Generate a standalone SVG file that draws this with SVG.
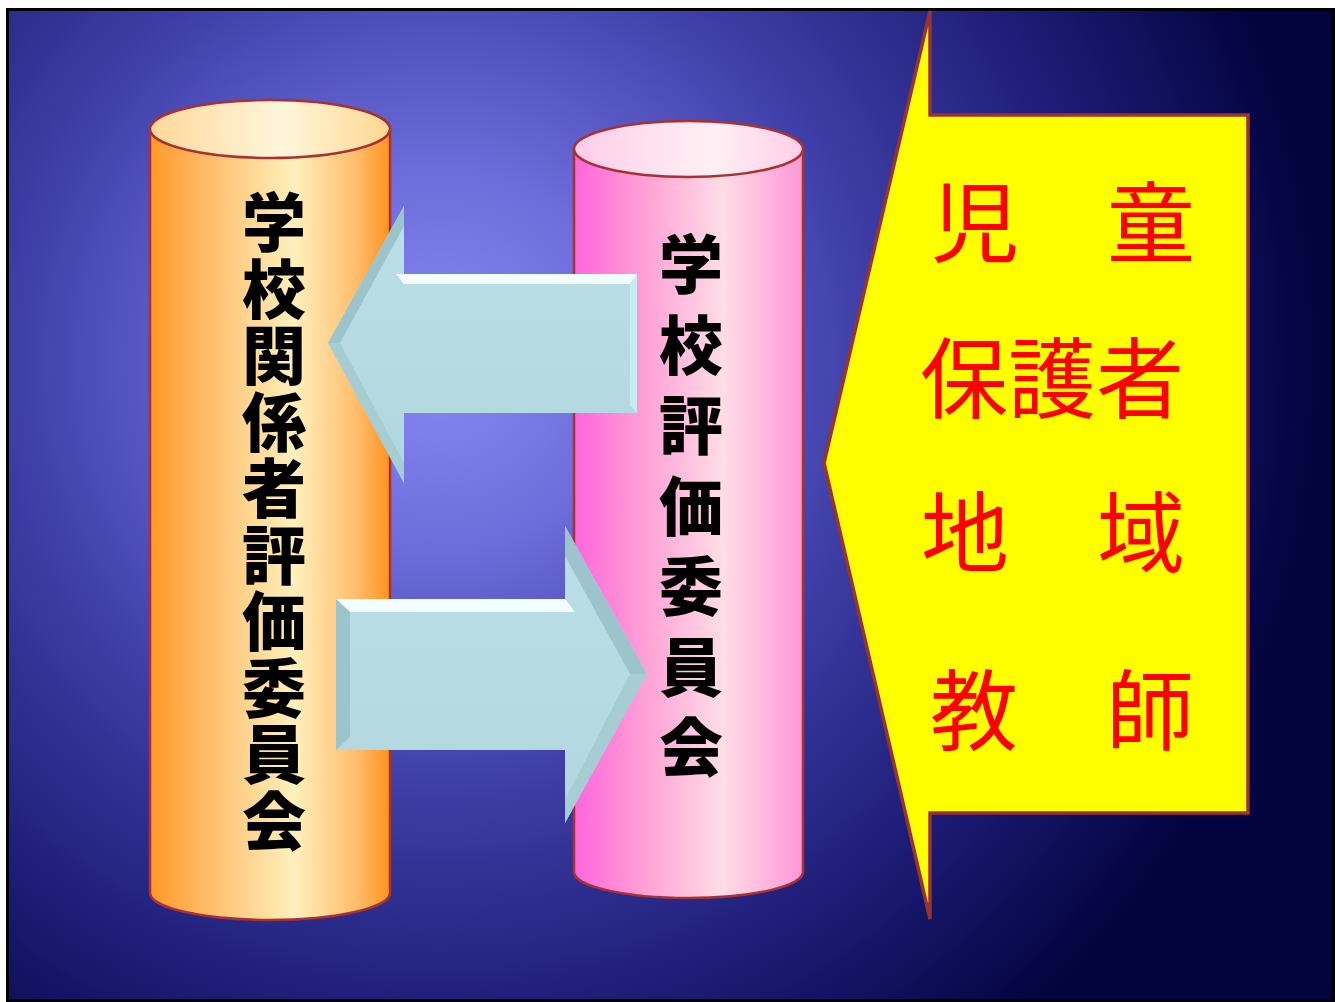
<svg xmlns="http://www.w3.org/2000/svg" width="1335" height="1002" viewBox="0 0 1335 1002">
  <defs>
    <radialGradient id="bg" gradientUnits="userSpaceOnUse" cx="440" cy="360" r="880">
      <stop offset="0" stop-color="#8a8af4"/>
      <stop offset="0.22" stop-color="#6c6cda"/>
      <stop offset="0.5" stop-color="#3c3ca4"/>
      <stop offset="0.78" stop-color="#1a1a72"/>
      <stop offset="1" stop-color="#03033f"/>
    </radialGradient>
    <linearGradient id="orangeBody" x1="0" y1="0" x2="1" y2="0">
      <stop offset="0" stop-color="#ff9828"/>
      <stop offset="0.3" stop-color="#ffc678"/>
      <stop offset="0.6" stop-color="#fff0bc"/>
      <stop offset="0.85" stop-color="#ffc070"/>
      <stop offset="1" stop-color="#ff9220"/>
    </linearGradient>
    <linearGradient id="orangeTop" x1="0" y1="0" x2="1" y2="0">
      <stop offset="0" stop-color="#ffd89a"/>
      <stop offset="0.55" stop-color="#fff6dc"/>
      <stop offset="1" stop-color="#ffd890"/>
    </linearGradient>
    <linearGradient id="pinkBody" x1="0" y1="0" x2="1" y2="0">
      <stop offset="0" stop-color="#ff66dc"/>
      <stop offset="0.3" stop-color="#ff9fd6"/>
      <stop offset="0.65" stop-color="#ffdde6"/>
      <stop offset="1" stop-color="#ff96d8"/>
    </linearGradient>
    <linearGradient id="pinkTop" x1="0" y1="0" x2="1" y2="0">
      <stop offset="0" stop-color="#ffcdea"/>
      <stop offset="0.6" stop-color="#fff0f4"/>
      <stop offset="1" stop-color="#ffcfe8"/>
    </linearGradient>
    <linearGradient id="arrowFill" x1="0" y1="0" x2="0" y2="1">
      <stop offset="0" stop-color="#bde0e8"/>
      <stop offset="1" stop-color="#b0d6de"/>
    </linearGradient>
  </defs>
  <style>
    .cyl { stroke: #a83232; stroke-width: 2.5; }
    .arrow { fill: url(#arrowFill); }
    .hl { fill: #f2fdff; }
    .dk { fill: #9cc4cc; }
    .vt { font-family: "Noto Sans CJK JP", "Noto Sans CJK SC", sans-serif; font-weight: 900; font-size: 64px; fill: #000; writing-mode: vertical-rl; text-orientation: upright; }
    .rt { font-family: "Noto Sans CJK JP", "Noto Sans CJK SC", sans-serif; font-weight: 400; font-size: 88px; fill: #ff0000; }
  </style>

  <rect x="6" y="8" width="1329" height="994" fill="#000"/>
  <rect x="9" y="11" width="1322" height="988" fill="url(#bg)"/>

  <g id="node-kankeisha">
    <path class="cyl" d="M150,129 L150,893 A120,27 0 0 0 390,893 L390,129 Z" fill="url(#orangeBody)"/>
    <ellipse class="cyl" cx="270" cy="129" rx="120" ry="29" fill="url(#orangeTop)"/>
    <text class="vt" x="274" y="190" letter-spacing="2.5">学校関係者評価委員会</text>
  </g>

  <g id="node-gakkou">
    <path class="cyl" d="M574,149 L574,872 A114.5,26 0 0 0 803,872 L803,149 Z" fill="url(#pinkBody)"/>
    <ellipse class="cyl" cx="688.5" cy="149" rx="114.5" ry="28" fill="url(#pinkTop)"/>
    <text class="vt" x="691" y="232" letter-spacing="16.5">学校評価委員会</text>
  </g>

  <g id="connectors">
    <g id="arrow-left">
      <polygon class="arrow" points="637,274 404,274 404,206 328,343 404,483 404,413 637,413"/>
      <polygon class="hl" points="637,274 396,274 404,284 630,284"/>
      <polygon class="dk" points="404,206 328,343 340,343 404,226"/>
      <polygon fill="#a6ccd4" points="328,343 404,483 404,463 340,343"/>
      <polygon fill="#c8ecf2" points="637,274 637,413 630,405 630,284"/>
    </g>
    <g id="arrow-right">
      <polygon class="arrow" points="336,599 565,599 565,526 647,674 565,823 565,750 336,750"/>
      <polygon class="hl" points="336,599 565,599 575,612 350,612"/>
      <polygon class="dk" points="336,599 350,612 350,737 336,750"/>
      <polygon class="dk" points="565,526 647,674 630,674 565,556"/>
      <polygon fill="#a6ccd4" points="647,674 565,823 565,800 630,674"/>
    </g>
  </g>

  <g id="node-callout">
    <polygon points="930,11 930,115 1248,115 1248,813 930,813 930,919 824,463" fill="#ffff00" stroke="#993333" stroke-width="3.5" stroke-linejoin="miter"/>
    <text class="rt" x="931" y="255">児　童</text>
    <text class="rt" x="920" y="411">保護者</text>
    <text class="rt" x="921" y="565">地　域</text>
    <text class="rt" x="930" y="743">教　師</text>
  </g>
</svg>
